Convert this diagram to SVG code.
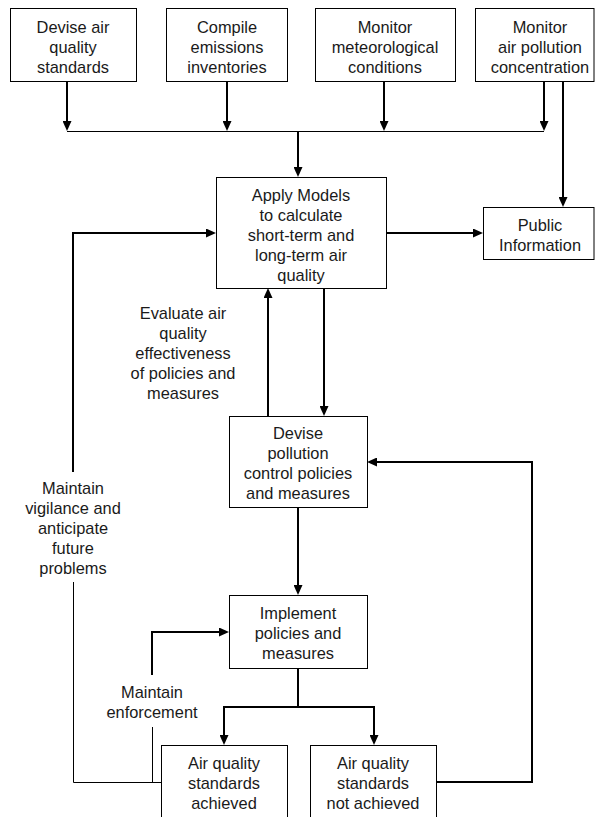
<svg xmlns="http://www.w3.org/2000/svg" width="595" height="817" viewBox="0 0 595 817">
  <style>
    .box { fill: #ffffff; stroke: #000000; stroke-width: 1; }
    .t { font-family: "Liberation Sans", Arial, sans-serif; font-size: 16.4px; fill: #1a1a1a; text-anchor: middle; }
    .thick { fill: none; stroke: #000000; stroke-width: 2; }
    .thin { fill: none; stroke: #000000; stroke-width: 1; }
  </style>
  <defs>
    <marker id="arrow" markerUnits="userSpaceOnUse" markerWidth="10" markerHeight="9" refX="2" refY="4.5" orient="auto">
      <path d="M0,0 L10,4.5 L0,9 Z" fill="#000000"/>
    </marker>
  </defs>
  <rect width="595" height="817" fill="#ffffff"/>

  <!-- connectors -->
  <g id="connectors">
    <!-- inputs into the collector line -->
    <path class="thin" d="M67,131.5 H544"/>
    <path class="thick" d="M67,82 V123" marker-end="url(#arrow)"/>
    <path class="thick" d="M227,82 V123" marker-end="url(#arrow)"/>
    <path class="thick" d="M384,82 V123" marker-end="url(#arrow)"/>
    <path class="thick" d="M544,82 V123" marker-end="url(#arrow)"/>
    <path class="thick" d="M298,131 V169" marker-end="url(#arrow)"/>
    <!-- monitoring straight to public information -->
    <path class="thick" d="M563,82 V199" marker-end="url(#arrow)"/>
    <!-- models to public information -->
    <path class="thick" d="M386,233 H475" marker-end="url(#arrow)"/>
    <!-- vigilance loop -->
    <path class="thick" d="M73,472 V233 H208" marker-end="url(#arrow)"/>
    <path class="thin" d="M73.5,582 V782.5 H161"/>
    <!-- evaluate / devise exchange -->
    <path class="thick" d="M268,416 V296" marker-end="url(#arrow)"/>
    <path class="thick" d="M324,288 V408" marker-end="url(#arrow)"/>
    <!-- devise to implement -->
    <path class="thick" d="M298,507 V587" marker-end="url(#arrow)"/>
    <!-- outcome split -->
    <path class="thick" d="M298,668 V707 H224 V737" marker-end="url(#arrow)"/>
    <path class="thick" d="M298,707 H374 V737" marker-end="url(#arrow)"/>
    <!-- standards not achieved loop -->
    <path class="thick" d="M437,782 H532 V462 H375" marker-end="url(#arrow)"/>
    <!-- enforcement loop -->
    <path class="thick" d="M152,675 V632 H221" marker-end="url(#arrow)"/>
    <path class="thin" d="M152.5,727 V782"/>
  </g>

  <g id="devise-standards">
    <rect class="box" x="10.5" y="8.5" width="126" height="73"/>
    <text class="t" x="73" y="33">Devise air</text>
    <text class="t" x="73" y="53">quality</text>
    <text class="t" x="73" y="73">standards</text>
  </g>
  <g id="compile-inventories">
    <rect class="box" x="166.5" y="8.5" width="121" height="73"/>
    <text class="t" x="227" y="33">Compile</text>
    <text class="t" x="227" y="53">emissions</text>
    <text class="t" x="227" y="73">inventories</text>
  </g>
  <g id="monitor-meteorology">
    <rect class="box" x="315.5" y="8.5" width="140" height="73"/>
    <text class="t" x="385" y="33">Monitor</text>
    <text class="t" x="385" y="53">meteorological</text>
    <text class="t" x="385" y="73">conditions</text>
  </g>
  <g id="monitor-concentration">
    <rect class="box" x="475.5" y="8.5" width="118.5" height="73"/>
    <text class="t" x="540" y="33">Monitor</text>
    <text class="t" x="540" y="53">air pollution</text>
    <text class="t" x="540" y="73">concentration</text>
  </g>
  <g id="apply-models">
    <rect class="box" x="216.5" y="177.5" width="170" height="111"/>
    <text class="t" x="301" y="201">Apply Models</text>
    <text class="t" x="301" y="221">to calculate</text>
    <text class="t" x="301" y="241">short-term and</text>
    <text class="t" x="301" y="261">long-term air</text>
    <text class="t" x="301" y="281">quality</text>
  </g>
  <g id="public-information">
    <rect class="box" x="483.5" y="207.5" width="110.5" height="52"/>
    <text class="t" x="540" y="231">Public</text>
    <text class="t" x="540" y="251">Information</text>
  </g>
  <g id="evaluate-label">
    <text class="t" x="183" y="319">Evaluate air</text>
    <text class="t" x="183" y="339">quality</text>
    <text class="t" x="183" y="359">effectiveness</text>
    <text class="t" x="183" y="379">of policies and</text>
    <text class="t" x="183" y="399">measures</text>
  </g>
  <g id="devise-policies">
    <rect class="box" x="229.5" y="416.5" width="138" height="91"/>
    <text class="t" x="298" y="439">Devise</text>
    <text class="t" x="298" y="459">pollution</text>
    <text class="t" x="298" y="479">control policies</text>
    <text class="t" x="298" y="499">and measures</text>
  </g>
  <g id="vigilance-label">
    <text class="t" x="73" y="494">Maintain</text>
    <text class="t" x="73" y="514">vigilance and</text>
    <text class="t" x="73" y="534">anticipate</text>
    <text class="t" x="73" y="554">future</text>
    <text class="t" x="73" y="574">problems</text>
  </g>
  <g id="implement">
    <rect class="box" x="229.5" y="595.5" width="138" height="73"/>
    <text class="t" x="298" y="619">Implement</text>
    <text class="t" x="298" y="639">policies and</text>
    <text class="t" x="298" y="659">measures</text>
  </g>
  <g id="enforcement-label">
    <text class="t" x="152" y="698">Maintain</text>
    <text class="t" x="152" y="718">enforcement</text>
  </g>
  <g id="standards-achieved">
    <rect class="box" x="161.5" y="745.5" width="126" height="80"/>
    <text class="t" x="224" y="769">Air quality</text>
    <text class="t" x="224" y="789">standards</text>
    <text class="t" x="224" y="809">achieved</text>
  </g>
  <g id="standards-not-achieved">
    <rect class="box" x="310.5" y="745.5" width="126" height="80"/>
    <text class="t" x="373" y="769">Air quality</text>
    <text class="t" x="373" y="789">standards</text>
    <text class="t" x="373" y="809">not achieved</text>
  </g>
</svg>
